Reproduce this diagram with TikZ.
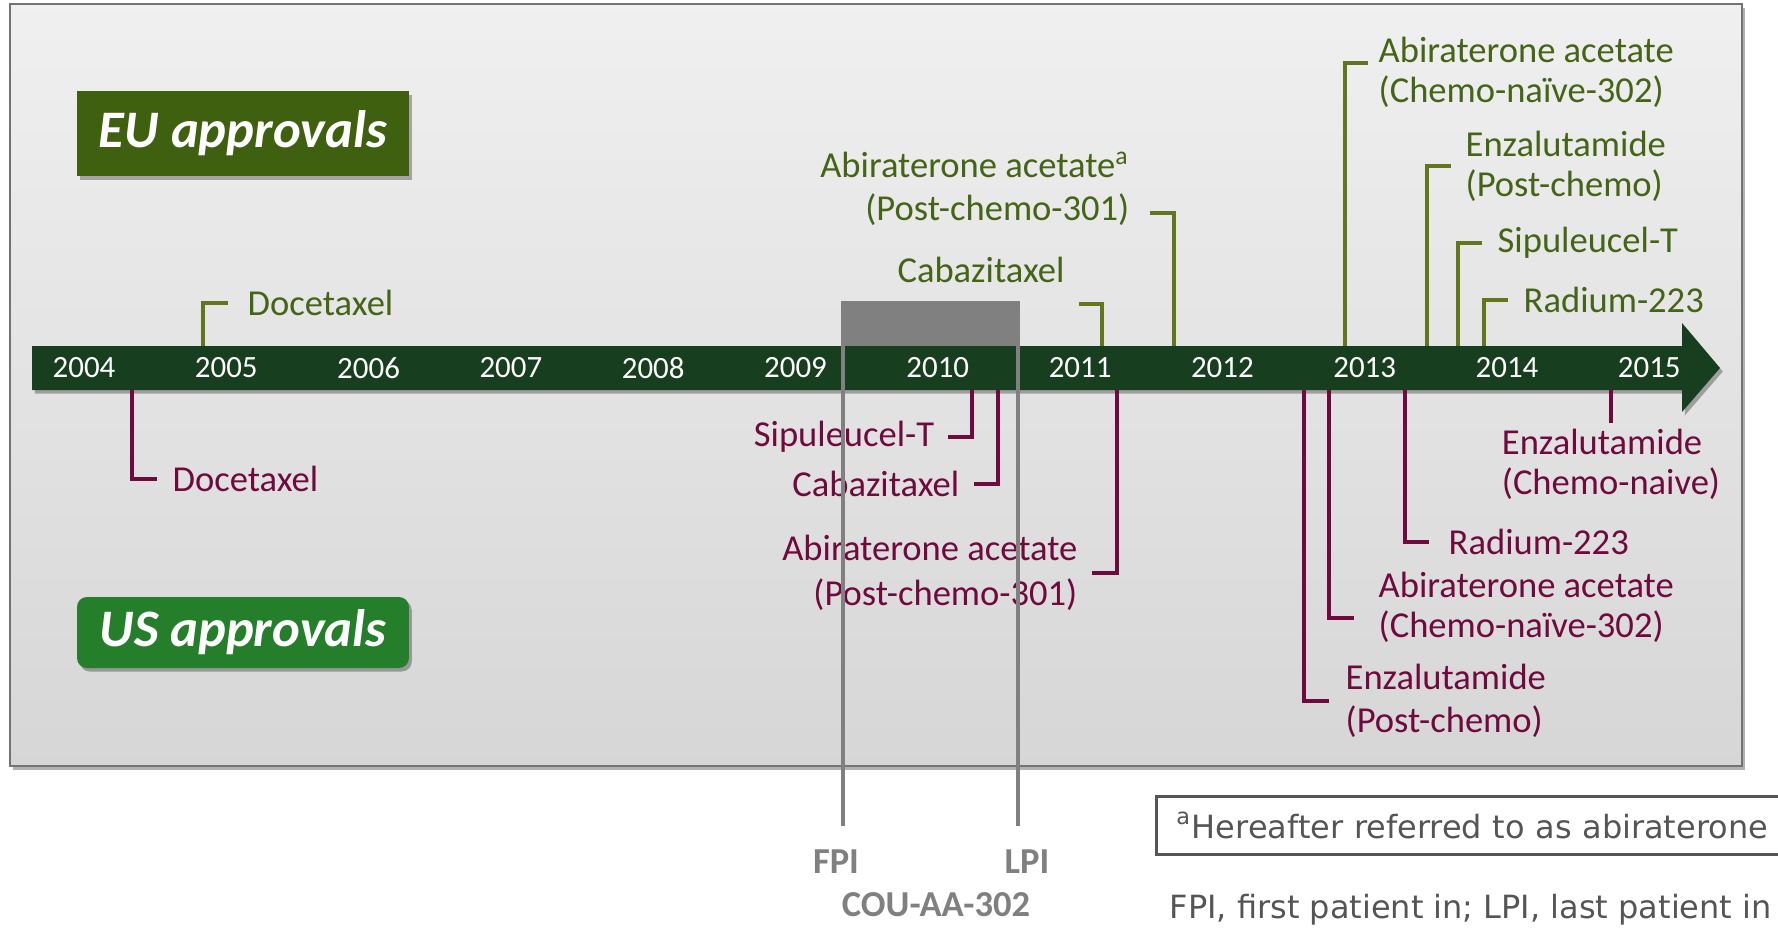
\documentclass[tikz,border=0pt]{standalone}
\usepackage{fontspec}
\setmainfont{Carlito}
\newfontfamily\notefont{DejaVu Sans}
\usetikzlibrary{shadows}

\definecolor{bargreen}{RGB}{24,62,32}
\definecolor{eutext}{RGB}{68,100,22}
\definecolor{euline}{RGB}{98,118,30}
\definecolor{usred}{RGB}{112,10,62}
\definecolor{eubox}{RGB}{63,96,14}
\definecolor{usbox}{RGB}{36,126,42}
\definecolor{trialgrey}{RGB}{128,128,128}
\definecolor{notegrey}{RGB}{85,85,85}

\begin{document}
\begin{tikzpicture}
[x=0.1mm,y=-0.1mm,
year/.style={text=white,font=\fontsize{8.8}{10}\selectfont,inner sep=0pt},
eulbl/.style={text=eutext,font=\fontsize{10.4}{11.4}\selectfont,inner sep=0pt},
uslbl/.style={text=usred,font=\fontsize{10.4}{11.4}\selectfont,inner sep=0pt},
euleg/.style={draw=euline,line width=0.9pt},
usleg/.style={draw=usred,line width=0.9pt},
hdr/.style={text=white,font=\fontsize{15}{18}\selectfont\bfseries\itshape,minimum width=33.2mm,inner sep=0pt},
trial/.style={draw=trialgrey,line width=1pt},
triallbl/.style={text=trialgrey,font=\fontsize{10.4}{12}\selectfont\bfseries,inner sep=0pt},
softshadow/.style={drop shadow={shadow xshift=0.8pt,shadow yshift=-1pt,opacity=0.3,fill=black}}]

\useasboundingbox (0,0) rectangle (1778,928);
\clip (0,0) rectangle (1778,928);

% panel
\path[draw=black!55,line width=0.8pt,top color=black!6,bottom color=black!16,softshadow] (10,4) rectangle (1742,766);

% headers
\node[hdr,fill=eubox,minimum height=8.5mm,softshadow] at (243,133.5) (eu) {EU approvals};
\node[hdr,fill=usbox,minimum height=7.1mm,rounded corners=1mm,softshadow] at (243,632.5) (us) {US approvals};

% timeline
\fill[bargreen,softshadow] (32,346) -- (1682,346) -- (1682,323) -- (1720,368) -- (1682,412) -- (1682,390) -- (32,390) -- cycle;
\fill[trialgrey] (842,301) rectangle (1020,346);

\foreach \yr [count=\i from 0] in {2004,...,2015}
  \node[year] at (84+142.3*\i,368) (y\yr) {\yr};

% feet on the bar and elbows
\foreach \n/\x in {euDoc/203,euCab/1102,eu301/1174,eu302/1345,euEnz/1427,euSip/1458,euRad/1484}
  \coordinate (\n-b) at (\x,346);
\foreach \n/\x in {usDoc/132,usSip/972,usCab/998,us301/1117,usEnz/1304,us302/1329,usRad/1405,usNaive/1611}
  \coordinate (\n-b) at (\x,390);
\coordinate (euCab-e) at (1079,304);
\coordinate (eu301-e) at (1150,213);
\coordinate (eu302-e) at (1368,63);
\coordinate (us302-e) at (1354,618);

% EU
\node[eulbl,anchor=west] at (247,303) (euDoc) {Docetaxel};
\node[eulbl] at (981,270) (euCab) {Cabazitaxel};
\node[eulbl,anchor=east,align=right,font=\fontsize{10.4}{12.2}\selectfont] at (1130,189) (eu301) {Abiraterone acetate\textsuperscript{a}\\(Post-chemo-301)};
\node[eulbl,anchor=west,align=left] at (1378,72) (eu302) {Abiraterone acetate\\(Chemo-naïve-302)};
\node[eulbl,anchor=west,align=left] at (1465,166) (euEnz) {Enzalutamide\\(Post-chemo)};
\node[eulbl,anchor=west] at (1497,243) (euSip) {Sipuleucel-T};
\node[eulbl,anchor=west] at (1523,300) (euRad) {Radium-223};

\draw[euleg] (euDoc-b) |- ([xshift=-5.4pt]euDoc.west);
\draw[euleg] (euCab-b) |- (euCab-e);
\draw[euleg] (eu301-b) |- (eu301-e);
\draw[euleg] (eu302-b) |- (eu302-e);
\draw[euleg] (euEnz-b) |- ([xshift=-4pt]euEnz.west);
\draw[euleg] (euSip-b) |- ([xshift=-4.3pt]euSip.west);
\draw[euleg] (euRad-b) |- ([xshift=-4.3pt]euRad.west);

% US
\node[uslbl,anchor=west] at (172,479) (usDoc) {Docetaxel};
\node[uslbl,anchor=east] at (935,437) (usSip) {Sipuleucel-T};
\node[uslbl,anchor=east] at (960,484) (usCab) {Cabazitaxel};
\node[uslbl,anchor=east,align=right,font=\fontsize{10.4}{12.8}\selectfont] at (1078,573) (us301) {Abiraterone acetate\\(Post-chemo-301)};
\node[uslbl,anchor=west,align=left,font=\fontsize{10.4}{12.2}\selectfont] at (1345,701) (usEnz) {Enzalutamide\\(Post-chemo)};
\node[uslbl,anchor=west,align=left] at (1378,607) (us302) {Abiraterone acetate\\(Chemo-naïve-302)};
\node[uslbl,anchor=west] at (1448,542) (usRad) {Radium-223};
\node[uslbl,anchor=north,align=left] at (1611,428) (usNaive) {Enzalutamide\\(Chemo-naive)};

\draw[usleg] (usDoc-b) |- ([xshift=-4.3pt]usDoc.west);
\draw[usleg] (usSip-b) |- ([xshift=3.7pt]usSip.east);
\draw[usleg] (usCab-b) |- ([xshift=4pt]usCab.east);
\draw[usleg] (us301-b) |- ([xshift=4pt]us301.east);
\draw[usleg] (usEnz-b) |- ([xshift=-4.6pt]usEnz.west);
\draw[usleg] (us302-b) |- (us302-e);
\draw[usleg] (usRad-b) |- ([xshift=-5.4pt]usRad.west);
\draw[usleg] (usNaive-b) -- ([yshift=1.4pt]usNaive.north);

% COU-AA-302 enrolment
\coordinate (fpi-t) at (843,301);
\coordinate (fpi-e) at (843,826);
\coordinate (lpi-t) at (1018,301);
\coordinate (lpi-e) at (1018,826);
\node[triallbl] at (836,862) (fpi) {FPI};
\node[triallbl] at (1027,862) (lpi) {LPI};
\node[triallbl] at (936,905) (cou) {COU-AA-302};
\draw[trial] (fpi-t) -- (fpi-e);
\draw[trial] (lpi-t) -- (lpi-e);

% footnotes
\node[draw=notegrey,line width=0.8pt,anchor=north west,text=notegrey,font=\notefont\fontsize{9.1}{11}\selectfont,
  inner xsep=2mm,inner ysep=0pt,minimum height=5.8mm,text width=62mm,align=left] at (1155,795) (note)
  {\textsuperscript{a}Hereafter referred to as abiraterone};
\node[anchor=base west,text=notegrey,font=\notefont\fontsize{9.1}{11}\selectfont,inner sep=0pt] at (1169,918) (abbr)
  {FPI, first patient in; LPI, last patient in};
\end{tikzpicture}
\end{document}
